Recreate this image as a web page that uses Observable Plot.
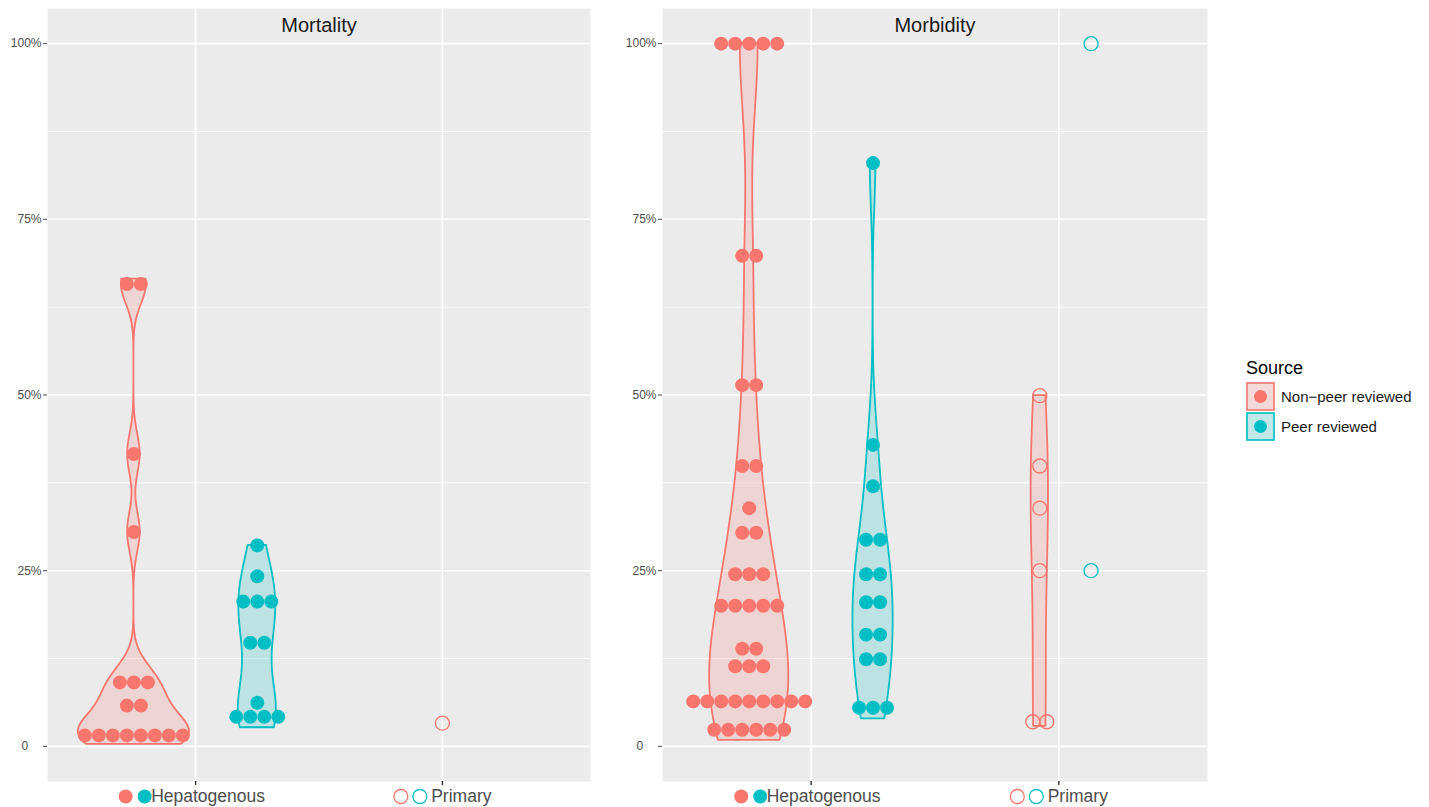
<!DOCTYPE html>
<html><head><meta charset="utf-8">
<script src="https://cdn.jsdelivr.net/npm/d3@7"></script>
<script src="https://cdn.jsdelivr.net/npm/@observablehq/plot@0.6"></script>
<style>
body{margin:0;background:#fff;font-family:"Liberation Sans",Arial,Helvetica,sans-serif;}
#wrap{position:relative;width:1429px;height:807px;overflow:hidden;}
#p1{position:absolute;left:0;top:0}
#p2{position:absolute;left:600px;top:0}
#legend{position:absolute;left:1244px;top:356px}
</style></head><body>
<div id="wrap"><div id="p1"></div><div id="p2"></div><div id="legend"></div></div>
<script>
// ---------------- data ----------------
const panels = ["Mortality", "Morbidity"];
const categories = ["Hepatogenous", "Primary"];
const sources = ["Non\u2212peer reviewed", "Peer reviewed"];
const sourceColors = ["#F8766D", "#00BFC4"];
const yTicks = [0, 0.25, 0.5, 0.75, 1];
const yMinorTicks = [0.125, 0.375, 0.625, 0.875];

// dot values (dotplot bin centres)
const mortalityHepNonPeer = [0.0156,0.0156,0.0156,0.0156,0.0156,0.0156,0.0156,0.0156, 0.058,0.058, 0.091,0.091,0.091, 0.305, 0.416, 0.658,0.658];
const mortalityHepPeer = [0.042,0.042,0.042,0.042, 0.062, 0.1475,0.1475, 0.206,0.206,0.206, 0.242, 0.286];
const mortalityPrimNonPeer = [0.033];
const mortalityPrimPeer = [];
const morbidityHepNonPeer = [0.0237,0.0237,0.0237,0.0237,0.0237,0.0237, 0.064,0.064,0.064,0.064,0.064,0.064,0.064,0.064,0.064, 0.114,0.114,0.114, 0.139,0.139, 0.2,0.2,0.2,0.2,0.2, 0.245,0.245,0.245, 0.304,0.304, 0.339, 0.399,0.399, 0.514,0.514, 0.698,0.698, 1,1,1,1,1];
const morbidityHepPeer = [0.055,0.055,0.055, 0.124,0.124, 0.159,0.159, 0.205,0.205, 0.245,0.245, 0.294,0.294, 0.37, 0.429, 0.83];
const morbidityPrimNonPeer = [0.035,0.035, 0.25, 0.339, 0.399, 0.499];
const morbidityPrimPeer = [0.25, 1];

// observed raw data range of each group (violins are trimmed to it)
const mortalityHepNonPeerRange = [0.0028, 0.665];
const mortalityHepPeerRange = [0.0265, 0.286];
const morbidityHepNonPeerRange = [0.0085, 1];
const morbidityHepPeerRange = [0.039, 0.83];
const morbidityPrimNonPeerRange = [0.0285, 0.499];

// horizontal dodge of each source within a category
const mortalityDodge = {Hepatogenous: [-0.25, 0.25], Primary: [0, 0]};
const morbidityDodge = {Hepatogenous: [-0.25, 0.25], Primary: [-0.077, 0.13]};

const groups = [
  {panel: "Mortality", category: "Hepatogenous", s: 0, values: mortalityHepNonPeer, range: mortalityHepNonPeerRange},
  {panel: "Mortality", category: "Hepatogenous", s: 1, values: mortalityHepPeer, range: mortalityHepPeerRange},
  {panel: "Mortality", category: "Primary", s: 0, values: mortalityPrimNonPeer},
  {panel: "Mortality", category: "Primary", s: 1, values: mortalityPrimPeer},
  {panel: "Morbidity", category: "Hepatogenous", s: 0, values: morbidityHepNonPeer, range: morbidityHepNonPeerRange},
  {panel: "Morbidity", category: "Hepatogenous", s: 1, values: morbidityHepPeer, range: morbidityHepPeerRange},
  {panel: "Morbidity", category: "Primary", s: 0, values: morbidityPrimNonPeer, range: morbidityPrimNonPeerRange},
  {panel: "Morbidity", category: "Primary", s: 1, values: morbidityPrimPeer}
];
const dodges = {Mortality: mortalityDodge, Morbidity: morbidityDodge};

// ---------------- layout ----------------
const H = 807, MT = 8, MB = 26;
const panelLayout = {
  Mortality: {width: 600, ml: 47, mr: 10, el: "#p1"},
  Morbidity: {width: 615, ml: 62, mr: 8, el: "#p2"}
};
const xDomain = [0.4, 2.6];
const DOT_D = 14;              // dot diameter in px
const HEP_VIOLIN_HALF = 0.225; // half of the dodged violin width (x units)
const PRIM_VIOLIN_HALF = 0.035;
const FONT = "Liberation Sans, Arial, Helvetica, sans-serif";

function center(g) {
  return categories.indexOf(g.category) + 1 + dodges[g.panel][g.category][g.s];
}

// dotplot stacking (centered)
const dots = [];
for (const g of groups) {
  const L = panelLayout[g.panel];
  const unitPx = (L.width - L.ml - L.mr) / (xDomain[1] - xDomain[0]);
  const step = DOT_D / unitPx;
  const bins = d3.group(g.values, v => v);
  for (const [v, arr] of bins) {
    const n = arr.length;
    arr.forEach((_, i) => dots.push({
      panel: g.panel, category: g.category, s: g.s,
      x: center(g) + (i - (n - 1) / 2) * step, y: v
    }));
  }
}

// violins: gaussian KDE, nrd0 bandwidth, trimmed, scale = "count"
function nrd0(v) {
  const sd = d3.deviation(v);
  const iqr = d3.quantile(v, 0.75) - d3.quantile(v, 0.25);
  let lo = Math.min(sd, iqr / 1.34);
  if (!(lo > 0)) lo = sd || 1;
  return 0.9 * lo * Math.pow(v.length, -0.2);
}
const kdes = [];
for (const g of groups) {
  if (!g.range) continue;
  const v = g.values, n = v.length, bw = nrd0(v);
  const [lo, hi] = g.range;
  const pts = d3.range(512).map(i => {
    const y = lo + (hi - lo) * i / 511;
    const d = d3.sum(v, xi => Math.exp(-0.5 * ((y - xi) / bw) ** 2)) / (n * bw * Math.sqrt(2 * Math.PI));
    return {y, dn: d * n};
  });
  kdes.push({g, pts});
}
const violins = [];
for (const cat of categories) {
  const ks = kdes.filter(k => k.g.category === cat);
  const maxDn = d3.max(ks, k => d3.max(k.pts, p => p.dn));
  const half = cat === "Hepatogenous" ? HEP_VIOLIN_HALF : PRIM_VIOLIN_HALF;
  for (const {g, pts} of ks) {
    const c = center(g);
    for (const p of pts) {
      const hw = half * p.dn / maxDn;
      violins.push({panel: g.panel, s: g.s, key: g.panel + g.category + g.s, y: p.y, x1: c - hw, x2: c + hw});
    }
  }
}

// text measurement for x labels
const ctx = document.createElement("canvas").getContext("2d");
const XLAB_SIZE = 17.5;
ctx.font = `${XLAB_SIZE}px ${FONT}`;

function yFmt(d) { return d === 0 ? "0\u00A0\u00A0\u00A0\u00A0" : Math.round(d * 100) + "%"; }

function makePanel(panel) {
  const L = panelLayout[panel];
  const vData = violins.filter(d => d.panel === panel);
  const dData = dots.filter(d => d.panel === panel);
  const labelMarks = categories.flatMap((c, i) => {
    const label = i === 0 ? c : "\u00A0" + c;
    const w = ctx.measureText(label).width;
    const start = -(33 + w) / 2 - (i === 0 ? 4 : 0);
    const filled = i === 0;
    return [0, 1].map(s => Plot.dot([i + 1], {
      x: d => d, frameAnchor: "bottom", dy: 15, dx: start + 7.5 + 19 * s, r: 7,
      fill: filled ? sourceColors[s] : "none", stroke: filled ? "none" : sourceColors[s], strokeWidth: 1.3
    })).concat([Plot.text([label], {
      x: () => i + 1, text: d => d, frameAnchor: "bottom", dy: 15, dx: start + 33,
      textAnchor: "start", lineAnchor: "middle", fontSize: XLAB_SIZE, fill: "#4D4D4D"
    })]);
  });
  return Plot.plot({
    width: L.width, height: H, marginLeft: L.ml, marginRight: L.mr, marginTop: MT, marginBottom: MB,
    style: {fontFamily: FONT, background: "transparent", overflow: "visible"},
    x: {domain: xDomain, axis: null},
    y: {domain: [-0.05, 1.05], axis: null},
    marks: [
      Plot.frame({fill: "#EBEBEB", stroke: null}),
      Plot.gridY(yMinorTicks, {stroke: "white", strokeOpacity: 1, strokeWidth: 0.8}),
      Plot.gridY(yTicks, {stroke: "white", strokeOpacity: 1, strokeWidth: 1.6}),
      Plot.gridX([1, 2], {stroke: "white", strokeOpacity: 1, strokeWidth: 1.6}),
      Plot.axisY(yTicks, {tickFormat: yFmt, tickSize: 4, tickPadding: 2, fontSize: 12, color: "#4D4D4D", label: null}),
      Plot.axisX([1, 2], {tickFormat: () => "", tickSize: 4, color: "#333333", strokeWidth: 1.4, label: null}),
      ...[0, 1].map(s => Plot.areaX(vData.filter(d => d.s === s), {
        x1: "x1", x2: "x2", y: "y", z: "key", fill: sourceColors[s], fillOpacity: 0.2,
        stroke: sourceColors[s], strokeWidth: 1.8
      })),
      ...[0, 1].map(s => Plot.dot(dData.filter(d => d.s === s && d.category === "Hepatogenous"), {
        x: "x", y: "y", r: 7, fill: sourceColors[s], stroke: "none"
      })),
      ...[0, 1].map(s => Plot.dot(dData.filter(d => d.s === s && d.category === "Primary"), {
        x: "x", y: "y", r: 7, fill: "none", stroke: sourceColors[s], strokeWidth: 1.3
      })),
      Plot.text([panel], {text: d => d, frameAnchor: "top", dy: 17, lineAnchor: "middle", fontSize: 20, fill: "#1A1A1A"}),
      ...labelMarks
    ]
  });
}

for (const p of panels) document.querySelector(panelLayout[p].el).append(makePanel(p));

// legend
const lg = d3.create("svg").attr("width", 185).attr("height", 95).style("font-family", FONT);
lg.append("text").attr("x", 2).attr("y", 18).attr("font-size", 18).attr("fill", "#000").text("Source");
sources.forEach((s, i) => {
  const y0 = 26 + i * 30;
  lg.append("rect").attr("x", 2).attr("y", y0).attr("width", 29).attr("height", 29).attr("fill", "#F2F2F2");
  lg.append("rect").attr("x", 3).attr("y", y0 + 1).attr("width", 27).attr("height", 27)
    .attr("fill", sourceColors[i]).attr("fill-opacity", 0.2).attr("stroke", sourceColors[i]).attr("stroke-width", 1.6);
  lg.append("circle").attr("cx", 16.5).attr("cy", y0 + 14.5).attr("r", 6.5).attr("fill", sourceColors[i]);
  lg.append("text").attr("x", 37).attr("y", y0 + 14.5).attr("dy", "0.35em").attr("font-size", 15).attr("fill", "#1A1A1A").text(s);
});
document.querySelector("#legend").append(lg.node());
</script>
</body></html>
